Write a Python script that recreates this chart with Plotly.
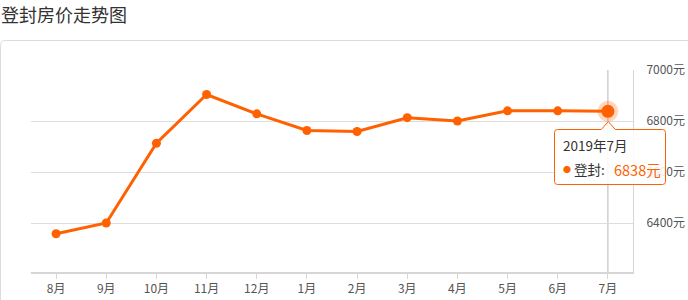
import plotly.graph_objects as go

# ---- data ----
title_text = "登封房价走势图"
months = ["8月", "9月", "10月", "11月", "12月", "1月", "2月", "3月", "4月", "5月", "6月", "7月"]
prices = [6358, 6400, 6713, 6904, 6828, 6763, 6759, 6813, 6800, 6840, 6840, 6838]
series_name = "登封"
tooltip_title = "2019年7月"
y_ticks = [6400, 6600, 6800, 7000]
y_range = [6208, 7000]

# ---- layout geometry (pixels) ----
W, H = 688, 300
ML, MR, MT, MB = 31, 55, 70, 28
PW = W - ML - MR
PH = H - MT - MB


def px(x):
    return (x - ML) / PW


def py(y):
    return (H - MB - y) / PH


ORANGE = "#ff6100"
FONT = "Noto Sans CJK SC"

fig = go.Figure()
fig.add_trace(go.Scatter(
    x=months, y=prices, mode="lines+markers",
    line=dict(color=ORANGE, width=3),
    marker=dict(color=ORANGE, size=9),
    hoverinfo="skip", showlegend=False,
))
# highlighted last point
fig.add_trace(go.Scatter(
    x=[months[-1]], y=[prices[-1]], mode="markers",
    marker=dict(color="rgba(255,97,0,0.25)", size=21),
    hoverinfo="skip", showlegend=False,
))
fig.add_trace(go.Scatter(
    x=[months[-1]], y=[prices[-1]], mode="markers",
    marker=dict(color=ORANGE, size=13),
    hoverinfo="skip", showlegend=False,
))

shapes = []
# outer panel border with rounded corner
r = 5
shapes.append(dict(
    type="path", xref="paper", yref="paper",
    path=(f"M {px(0.5)} {py(310)} L {px(0.5)} {py(40.5 + r)} "
          f"Q {px(0.5)} {py(40.5)} {px(0.5 + r)} {py(40.5)} L {px(720)} {py(40.5)}"),
    line=dict(color="#dcdcdc", width=1), layer="below",
))
# axis pointer line at last month
shapes.append(dict(
    type="line", xref="x", yref="paper",
    x0=months[-1], x1=months[-1], y0=0, y1=1,
    line=dict(color="#b5b5b5", width=1), layer="below",
))
# tooltip box with notch
bx0, bx1, by0, by1 = 554.5, 665.5, 129.5, 184.5
ax_, ay_ = 608.3, 121.5
cr = 3
path = (
    f"M {px(bx0 + cr)} {py(by0)} "
    f"L {px(ax_ - 7)} {py(by0)} L {px(ax_)} {py(ay_)} L {px(ax_ + 7)} {py(by0)} "
    f"L {px(bx1 - cr)} {py(by0)} Q {px(bx1)} {py(by0)} {px(bx1)} {py(by0 + cr)} "
    f"L {px(bx1)} {py(by1 - cr)} Q {px(bx1)} {py(by1)} {px(bx1 - cr)} {py(by1)} "
    f"L {px(bx0 + cr)} {py(by1)} Q {px(bx0)} {py(by1)} {px(bx0)} {py(by1 - cr)} "
    f"L {px(bx0)} {py(by0 + cr)} Q {px(bx0)} {py(by0)} {px(bx0 + cr)} {py(by0)} Z"
)
shapes.append(dict(
    type="path", xref="paper", yref="paper", path=path,
    fillcolor="rgba(255,255,255,0.88)", line=dict(color=ORANGE, width=1), layer="above",
))

annotations = [
    dict(text=title_text, xref="paper", yref="paper", x=px(-1), y=py(14),
         xanchor="left", yanchor="middle", showarrow=False,
         font=dict(family=FONT, size=18, color="#333333")),
    dict(text=tooltip_title, xref="paper", yref="paper", x=px(561), y=py(145),
         xanchor="left", yanchor="middle", showarrow=False,
         font=dict(family=FONT, size=13.5, color="#333333")),
    dict(text="●", xref="paper", yref="paper", x=px(561), y=py(169),
         xanchor="left", yanchor="middle", showarrow=False,
         font=dict(family=FONT, size=8, color=ORANGE)),
    dict(text=f"{series_name}:", xref="paper", yref="paper", x=px(572), y=py(169),
         xanchor="left", yanchor="middle", showarrow=False,
         font=dict(family=FONT, size=13.5, color="#333333")),
    dict(text=f"{prices[-1]}元", xref="paper", yref="paper", x=px(612), y=py(169),
         xanchor="left", yanchor="middle", showarrow=False,
         font=dict(family=FONT, size=14.5, color=ORANGE)),
]

fig.update_layout(
    width=W, height=H, autosize=False,
    margin=dict(l=ML, r=MR, t=MT, b=MB, pad=0, autoexpand=False),
    paper_bgcolor="white", plot_bgcolor="white",
    font=dict(family=FONT, size=12, color="#555555"),
    hovermode=False,
    shapes=shapes, annotations=annotations,
    xaxis=dict(
        type="category", categoryorder="array", categoryarray=months,
        range=[-0.5, len(months) - 0.5], automargin=False,
        showgrid=False, showline=True, linecolor="#d6d6d6", linewidth=2,
        ticks="outside", ticklen=5, tickwidth=1, tickcolor="#d6d6d6",
        tickfont=dict(size=12, color="#555555"), fixedrange=True,
    ),
    yaxis=dict(
        side="right", range=y_range, tickvals=y_ticks, automargin=False,
        ticktext=[f"{v}元" for v in y_ticks],
        showgrid=True, gridcolor="#dddddd", gridwidth=1,
        showline=True, linecolor="#d6d6d6", linewidth=1,
        zeroline=False, ticks="", ticklabelstandoff=10,
        tickfont=dict(size=12, color="#555555"), fixedrange=True,
    ),
)

fig.write_html("out.html", config={"displayModeBar": False})
